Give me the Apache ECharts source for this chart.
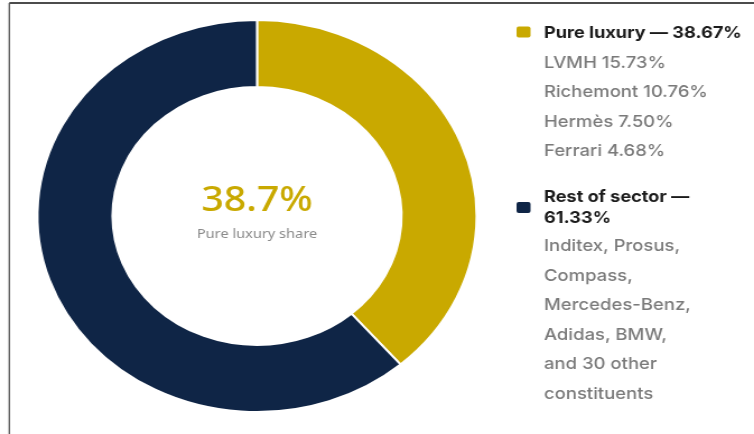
<!DOCTYPE html>
<html>
<head>
<meta charset="utf-8">
<script src="https://cdn.jsdelivr.net/npm/echarts@6/dist/echarts.min.js"></script>
<style>
  html, body { margin: 0; padding: 0; background: #ffffff; overflow: hidden; }
  #wrap { position: absolute; left: 0; top: 0; width: 754px; height: 434px; overflow: hidden; }
  #chart { position: absolute; left: 0; top: 0; width: 673px; height: 434px; transform: scaleX(1.1204); transform-origin: 0 0; }
</style>
</head>
<body>
<div id="wrap"><div id="chart"></div></div>
<script>
// ---- data ----
const categories = ['Pure luxury', 'Rest of sector'];
const values = [38.67, 61.33];
const centerValue = '38.7%';
const centerCaption = 'Pure luxury share';
const luxuryHeader = ['Pure luxury — 38.67%'];
const luxuryLines = ['LVMH 15.73%', 'Richemont 10.76%', 'Hermès 7.50%', 'Ferrari 4.68%'];
const restHeader = ['Rest of sector —', '61.33%'];
const restLines = ['Inditex, Prosus,', 'Compass,', 'Mercedes-Benz,', 'Adidas, BMW,', 'and 30 other', 'constituents'];

// ---- style ----
const GOLD = '#C9A900';
const NAVY = '#0F2546';
const GRAY = '#7A7A7A';
const DARK = '#1B1B1B';
const FONT = 'Inter, "Noto Sans", sans-serif';

const chart = echarts.init(document.getElementById('chart'), null, { renderer: 'canvas' });

const graphics = [];
// frame lines
graphics.push({ type: 'line', shape: { x1: 8.3, y1: 3, x2: 700, y2: 3 }, style: { stroke: '#111', lineWidth: 1.5 } });
graphics.push({ type: 'line', shape: { x1: 8.3, y1: 3, x2: 8.3, y2: 440 }, style: { stroke: '#555', lineWidth: 1.3 } });

// center text
graphics.push({ type: 'text', style: { text: centerValue, x: 229.4, y: 201, align: 'center', verticalAlign: 'middle', fill: GOLD, font: '500 35px "Noto Sans", sans-serif' } });
graphics.push({ type: 'text', style: { text: centerCaption, x: 229.4, y: 234, align: 'center', verticalAlign: 'middle', fill: '#8A8A8A', font: '13px "Noto Sans", sans-serif' } });

const sqX = 461, txX = 485.5;
// luxury block
graphics.push({ type: 'rect', shape: { x: sqX, y: 26.5, width: 12.5, height: 11, r: 2 }, style: { fill: GOLD } });
luxuryHeader.forEach((t, i) => graphics.push({ type: 'text', style: { text: t, x: txX, y: 33 + i * 21, verticalAlign: 'middle', fill: DARK, font: 'bold 16.2px ' + FONT } }));
luxuryLines.forEach((t, i) => graphics.push({ type: 'text', style: { text: t, x: txX, y: 63 + i * 29.5, verticalAlign: 'middle', fill: GRAY, font: '500 16.5px ' + FONT } }));

// rest block
graphics.push({ type: 'rect', shape: { x: sqX, y: 202, width: 12.5, height: 11, r: 2 }, style: { fill: NAVY } });
restHeader.forEach((t, i) => graphics.push({ type: 'text', style: { text: t, x: txX, y: 197 + i * 21.5, verticalAlign: 'middle', fill: DARK, font: 'bold 16.2px ' + FONT } }));
restLines.forEach((t, i) => graphics.push({ type: 'text', style: { text: t, x: txX, y: 246.5 + i * 29.5, verticalAlign: 'middle', fill: GRAY, font: '500 16.5px ' + FONT } }));

chart.setOption({
  animation: false,
  backgroundColor: '#ffffff',
  series: [{
    type: 'pie',
    center: [229.4, 216],
    radius: [129, 196],
    startAngle: 90,
    clockwise: true,
    silent: true,
    label: { show: false },
    labelLine: { show: false },
    itemStyle: { borderColor: '#ffffff', borderWidth: 2 },
    data: categories.map((c, i) => ({ name: c, value: values[i], itemStyle: { color: [GOLD, NAVY][i] } }))
  }],
  graphic: graphics
});
</script>
</body>
</html>
